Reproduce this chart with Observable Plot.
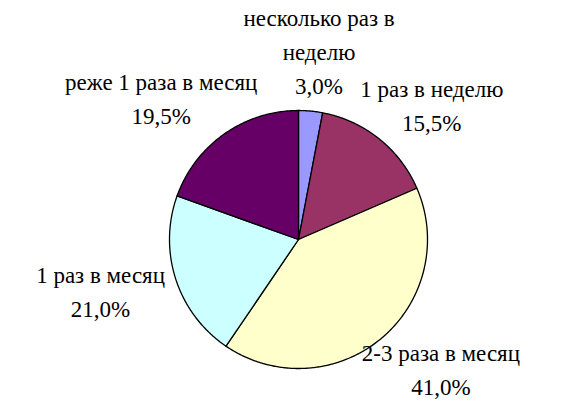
<!DOCTYPE html>
<html><head><meta charset="utf-8">
<script src="https://cdn.jsdelivr.net/npm/d3@7"></script>
<script src="https://cdn.jsdelivr.net/npm/@observablehq/plot@0.6"></script>
</head><body style="margin:0;background:#fff;font-family:'Liberation Serif','Times New Roman',serif"><div id="chart"></div>
<script>
const categories = ["несколько раз в\nнеделю", "1 раз в неделю", "2-3 раза в месяц", "1 раз в месяц", "реже 1 раза в месяц"];
const shares = [3.0, 15.5, 41.0, 21.0, 19.5];
const colors = ["#9999FF", "#993366", "#FFFFCC", "#CCFFFF", "#660066"];

const W = 564, H = 411, cx = 298, cy = 239, r = 129;
const fontSize = 23, lineH = 1.48, charW = 0.443;
const serif = "Liberation Serif, Times New Roman, Tinos, serif";
const total = d3.sum(shares);
const fmt = v => v.toFixed(1).replace(".", ",") + "%";

const pts = [];
const rows = [];
let acc = 0;
categories.forEach((c, i) => {
  const a0 = acc / total * 2 * Math.PI;
  acc += shares[i];
  const a1 = acc / total * 2 * Math.PI;
  pts.push({c, x: 0, y: 0});
  const n = Math.max(2, Math.ceil((a1 - a0) / 0.01));
  for (let k = 0; k <= n; k++) {
    const a = a0 + (a1 - a0) * k / n;
    pts.push({c, x: Math.sin(a), y: -Math.cos(a)});
  }
  pts.push({c, x: 0, y: 0});
  const am = (a0 + a1) / 2;
  const lines = (c + "\n" + fmt(shares[i])).split("\n");
  const w = d3.max(lines, l => l.length) * charW * fontSize / r;
  const step = fontSize * lineH / r;
  const h = (lines.length - 1) * step + fontSize / r;
  const R = 1.1;
  const ux = Math.sin(am), uy = -Math.cos(am);
  const lx = R * ux + ux * w / 2, ly = R * uy + uy * h / 2;
  lines.forEach((t, k) => rows.push({t, x: lx, y: ly + (k - (lines.length - 1) / 2) * step}));
});

const chart = Plot.plot({
  width: W, height: H,
  margin: 0,
  style: {fontFamily: serif, background: "#fff"},
  x: {domain: [-cx / r, (W - cx) / r], range: [0, W], axis: null},
  y: {domain: [-cy / r, (H - cy) / r], range: [0, H], axis: null},
  color: {domain: categories, range: colors},
  marks: [
    Plot.line(pts, {x: "x", y: "y", z: "c", fill: "c", stroke: "#000", strokeWidth: 1.3, strokeLinejoin: "round"}),
    Plot.text(rows, {x: "x", y: "y", text: "t", fontSize, fontFamily: serif, textAnchor: "middle", fill: "#000"})
  ]
});
document.getElementById("chart").appendChild(chart);
</script></body></html>
